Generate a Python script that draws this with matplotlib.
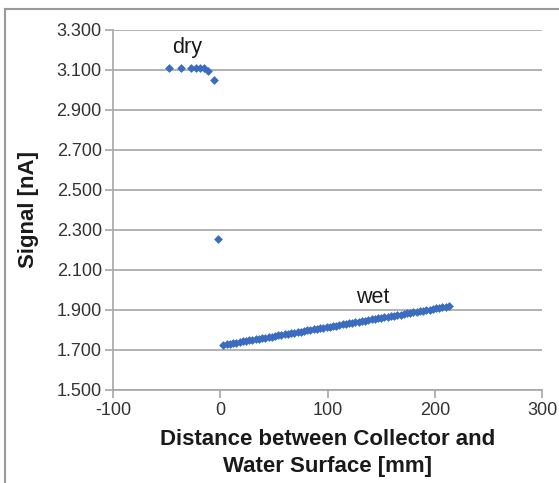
import matplotlib
matplotlib.use("Agg")
from matplotlib import pyplot as plt
from matplotlib.lines import Line2D
from matplotlib.ticker import FormatStrFormatter

plt.rcParams['font.family'] = ['Liberation Sans', 'DejaVu Sans']
plt.rcParams['axes.unicode_minus'] = False

# dry points (collector above / near water surface)
dry_x = [-48, -37, -27, -23, -19, -15, -11, -6, -2]
dry_y = [3.110, 3.110, 3.110, 3.110, 3.110, 3.108, 3.095, 3.050, 2.255]

# wet points
wet_x = [3, 6, 9, 12, 15, 18, 21, 24, 27, 30, 33, 36, 39, 42, 45, 48, 51, 54,
         57, 60, 63, 66, 69, 72, 75, 78, 81, 84, 87, 90, 93, 96, 99, 102, 105,
         108, 111, 114, 117, 120, 123, 126, 129, 132, 135, 138, 141, 144, 147,
         150, 153, 156, 159, 162, 165, 168, 171, 174, 177, 180, 183, 186, 189,
         192, 195, 198, 201, 204, 207, 210, 213]
wet_y = [1.725, 1.728, 1.731, 1.733, 1.736, 1.739, 1.742, 1.744, 1.747, 1.750,
         1.753, 1.755, 1.758, 1.761, 1.764, 1.766, 1.769, 1.772, 1.775, 1.777,
         1.780, 1.783, 1.786, 1.788, 1.791, 1.794, 1.797, 1.799, 1.802, 1.805,
         1.808, 1.810, 1.813, 1.816, 1.819, 1.821, 1.824, 1.827, 1.830, 1.832,
         1.835, 1.838, 1.841, 1.843, 1.846, 1.849, 1.852, 1.854, 1.857, 1.860,
         1.863, 1.865, 1.868, 1.871, 1.874, 1.876, 1.879, 1.882, 1.885, 1.887,
         1.890, 1.893, 1.896, 1.898, 1.901, 1.904, 1.907, 1.909, 1.912, 1.915,
         1.918]

x_ticks = [-100, 0, 100, 200, 300]
y_ticks = [1.5, 1.7, 1.9, 2.1, 2.3, 2.5, 2.7, 2.9, 3.1, 3.3]

blue = '#3a6cc0'
grey = '#a6a6a6'

fig = plt.figure(figsize=(5.59, 4.83), dpi=100)
ax = fig.add_axes([0.202, 0.193, 0.768, 0.745])

ax.scatter(dry_x + wet_x, dry_y + wet_y, marker='D', s=20, color=blue,
           linewidths=0, zorder=3)

ax.set_xlim(-100, 300)
ax.set_ylim(1.5, 3.3)
ax.set_xticks(x_ticks)
ax.set_yticks(y_ticks)
ax.yaxis.set_major_formatter(FormatStrFormatter('%.3f'))

ax.grid(True, axis='y', color=grey, linewidth=1.2)
ax.set_axisbelow(True)
for s in ['top', 'right']:
    ax.spines[s].set_visible(False)
for s in ['left', 'bottom']:
    ax.spines[s].set_color(grey)
    ax.spines[s].set_linewidth(1.2)
ax.tick_params(axis='both', colors=grey, labelcolor='#333333', labelsize=13,
               length=6, width=1.2, direction='out', pad=2)
ax.tick_params(axis='x', pad=3)

ax.set_ylabel('Signal [nA]', fontsize=16, fontweight='bold', labelpad=13,
              color='#1a1a1a')
ax.set_xlabel('Distance between Collector and\nWater Surface [mm]', fontsize=16,
              fontweight='bold', labelpad=7, linespacing=1.4, color='#1a1a1a')

ax.text(-31, 3.21, 'dry', fontsize=15.5, ha='center', va='center', color='#1a1a1a')
ax.text(142, 1.96, 'wet', fontsize=15.5, ha='center', va='center', color='#1a1a1a')

# frame lines of the original chart box (left and top only)
fig.lines.append(Line2D([0.009, 0.009], [0.0, 0.981], transform=fig.transFigure,
                        color='#9a9a9a', linewidth=1.5))
fig.lines.append(Line2D([0.009, 1.0], [0.981, 0.981], transform=fig.transFigure,
                        color='#9a9a9a', linewidth=1.5))

fig.savefig('out.png', dpi=100)
